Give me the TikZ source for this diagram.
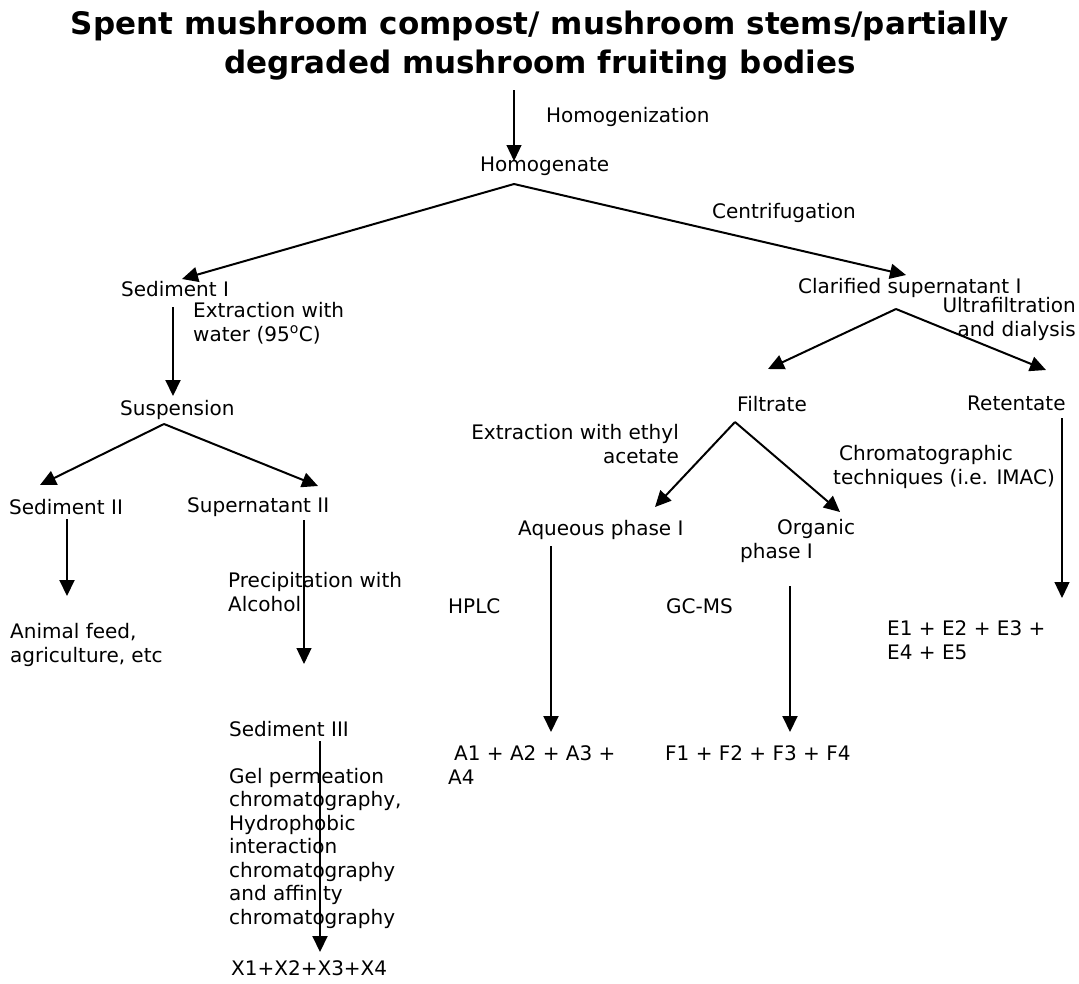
\documentclass[tikz,border=0pt]{standalone}
\usepackage{fontspec}
\setmainfont{DejaVu Sans}
\usetikzlibrary{
    arrows.meta
}

\begin{document}
\begin{tikzpicture}[x=1pt, y=-1pt,
        lbl/.style={anchor=west, inner sep=0pt, align=left,
            font=\fontsize{20}{23.5}\selectfont},
        flow/.style={line width=2pt, -{Triangle[length=16pt,width=15pt]}},
        thinflow/.style={line width=1.2pt, -{Triangle[length=16pt,width=15pt]}}]
        \useasboundingbox (0, 0) rectangle (1079, 983);
        \node[inner sep=0pt, align=center, font=\fontsize{31}{39}\selectfont\bfseries] (title) at (540, 46)
            {Spent mushroom compost/ mushroom stems/partially\\degraded mushroom fruiting bodies};
        % top
        \node[lbl] (homogenization) at (546, 117) {Homogenization};
        \node[lbl] (homogenate) at (480, 166) {Homogenate};
        \node[lbl] (centrifugation) at (712, 213) {Centrifugation};
        \coordinate (tTop) at (514, 90);
        \coordinate (hTip) at (514, 161);
        \coordinate (hApex) at (514, 184);
        \coordinate (sedITip) at (182, 279);
        \coordinate (clarTip) at (906, 275);
        \draw[thinflow] (tTop) -- (hTip);
        \draw[flow] (hApex) -- (sedITip);
        \draw[flow] (hApex) -- (clarTip);
        % left branch
        \node[lbl] (sedI) at (121, 289) {Sediment I};
        \node[lbl] (extrWater) at (193, 323) {Extraction with\\water (95\textsuperscript{o}C)};
        \coordinate (sedIBot) at (173, 307);
        \coordinate (suspTip) at (173, 396);
        \draw[flow] (sedIBot) -- (suspTip);
        \node[lbl] (suspension) at (120, 410) {Suspension};
        \coordinate (sApex) at (164, 424);
        \coordinate (sedIITip) at (40, 485);
        \coordinate (supIITip) at (318, 486);
        \draw[flow] (sApex) -- (sedIITip);
        \draw[flow] (sApex) -- (supIITip);
        \node[lbl] (sedII) at (9, 507) {Sediment II};
        \node[lbl] (supII) at (187, 507) {Supernatant II};
        \coordinate (sedIIBot) at (67, 519);
        \coordinate (feedTip) at (67, 596);
        \draw[flow] (sedIIBot) -- (feedTip);
        \node[lbl] (feed) at (10, 645) {Animal feed,\\agriculture, etc};
        \node[lbl] (precip) at (228, 592) {Precipitation with\\Alcohol};
        \coordinate (supIIBot) at (304, 520);
        \coordinate (sedIIITip) at (304, 664);
        \draw[thinflow] (supIIBot) -- (sedIIITip);
        \node[lbl] (sedIII) at (229, 729) {Sediment III};
        \node[lbl] (gpc) at (229, 848) {Gel permeation\\chromatography,\\Hydrophobic\\interaction\\chromatography\\and affinity\\chromatography};
        \coordinate (sedIIIBot) at (320, 741);
        \coordinate (xTip) at (320, 952);
        \draw[flow] (sedIIIBot) -- (xTip);
        \node[lbl] (xsum) at (231, 968) {X1+X2+X3+X4};
        % right branch
        \node[lbl] (clarSup) at (798, 288) {Clarified supernatant I};
        \node[lbl, anchor=east, align=right] (ultra) at (1076, 319) {Ultrafiltration\\and dialysis};
        \coordinate (cApex) at (896, 309);
        \coordinate (filtTip) at (768, 369);
        \coordinate (retTip) at (1046, 370);
        \draw[flow] (cApex) -- (filtTip);
        \draw[flow] (cApex) -- (retTip);
        \node[lbl] (filtrate) at (737, 404) {Filtrate};
        \node[lbl] (retentate) at (967, 403) {Retentate};
        \node[lbl, anchor=east, align=right] (extrEthyl) at (679, 444) {Extraction with ethyl\\acetate};
        \node[lbl] (chromTech) at (833, 467) {\hspace*{6pt}Chromatographic\\techniques (i.e. IMAC)};
        \coordinate (fApex) at (735, 422);
        \coordinate (aqTip) at (655, 507);
        \coordinate (orgTip) at (840, 512);
        \draw[flow] (fApex) -- (aqTip);
        \draw[flow] (fApex) -- (orgTip);
        \node[lbl] (aqueous) at (518, 530) {Aqueous phase I};
        \node[lbl] (organic) at (740, 541) {\hspace*{37pt}Organic\\phase I};
        \coordinate (retBot) at (1062, 418);
        \coordinate (eTip) at (1062, 598);
        \draw[thinflow] (retBot) -- (eTip);
        \node[lbl] (esum) at (887, 640) {E1 + E2 + E3 +\\E4 + E5};
        \node[lbl] (hplc) at (448, 606) {HPLC};
        \node[lbl] (gcms) at (666, 606) {GC-MS};
        \coordinate (aqBot) at (551, 546);
        \coordinate (aTip) at (551, 732);
        \draw[flow] (aqBot) -- (aTip);
        \coordinate (orgBot) at (790, 586);
        \coordinate (fTip) at (790, 732);
        \draw[flow] (orgBot) -- (fTip);
        \node[lbl] (asum) at (448, 765) {\hspace*{6pt}A1 + A2 + A3 +\\A4};
        \node[lbl] (fsum) at (665, 753) {F1 + F2 + F3 + F4};
    \end{tikzpicture}
\end{document}
